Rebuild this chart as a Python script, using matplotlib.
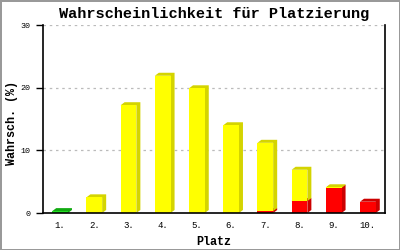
import matplotlib
matplotlib.use("Agg")
import matplotlib.pyplot as plt
from matplotlib.patches import Polygon
from matplotlib.transforms import IdentityTransform

places = ["1.", "2.", "3.", "4.", "5.", "6.", "7.", "8.", "9.", "10."]
red_vals = [0.0, 0.0, 0.0, 0.0, 0.0, 0.0, 0.3, 1.9, 4.0, 1.8]
yellow_vals = [0.0, 2.5, 17.2, 21.9, 19.9, 14.0, 10.9, 5.0, 0.1, 0.0]
green_vals = [0.3, 0.0, 0.0, 0.0, 0.0, 0.0, 0.0, 0.0, 0.0, 0.0]
yticks = [0, 10, 20, 30]

series = [
    (red_vals, "#ff0000", "#cc0000"),
    (yellow_vals, "#ffff00", "#d4d400"),
    (green_vals, "#22dd22", "#11aa11"),
]

mono = ["Liberation Mono", "DejaVu Sans Mono"]
fig = plt.figure(figsize=(4, 2.5), dpi=100)
fig.patch.set_facecolor("white")
fig.patch.set_edgecolor("#999999")
fig.patch.set_linewidth(2)
ax = fig.add_axes([0.1075, 0.148, 0.855, 0.752])
ax.set_xlim(0.5, len(places) + 0.5)
ax.set_ylim(0, 30)

ax.spines["top"].set_visible(False)
for s in ["left", "bottom", "right"]:
    ax.spines[s].set_color("black")
    ax.spines[s].set_linewidth(1.2)
    ax.spines[s].set_zorder(50)
ax.set_yticks(yticks)
ax.set_yticklabels([str(v) for v in yticks], fontfamily=mono, fontsize=6)
ax.set_xticks(range(1, len(places) + 1))
ax.set_xticklabels(places, fontfamily=mono, fontsize=6.5)
ax.tick_params(axis="y", length=5, width=1, pad=4)
ax.tick_params(axis="x", length=0, pad=6)
for v in yticks[1:]:
    ax.axhline(v, color="#bbbbbb", linestyle=(0, (2, 3)), linewidth=0.9, zorder=0)

ax.set_title("Wahrscheinlichkeit für Platzierung", fontfamily=mono,
             fontweight="bold", fontsize=11, pad=5)
ax.set_ylabel("Wahrsch. (%)", fontfamily=mono, fontweight="bold", fontsize=8.5)
ax.yaxis.set_label_coords(-0.074, 0.48)
ax.set_xlabel("Platz", fontfamily=mono, fontweight="bold", fontsize=8.5, labelpad=4)

fig.canvas.draw()
width = 0.46
dx, dy = 4, 3
z = 2
for i in range(len(places)):
    bottom = 0.0
    for vals, front, side in series:
        v = vals[i]
        if v <= 0:
            continue
        x0, y0 = ax.transData.transform((i + 1 - width / 2, bottom))
        x1, y1 = ax.transData.transform((i + 1 + width / 2, bottom + v))
        poly = Polygon([(x0, y1), (x0 + dx, y1 + dy), (x1 + dx, y1 + dy),
                        (x1 + dx, y0 + dy), (x1, y0), (x1, y1)],
                       closed=True, facecolor=side, edgecolor="none",
                       transform=IdentityTransform(), zorder=z, clip_on=False)
        ax.add_patch(poly)
        ax.bar(i + 1, v, width=width, bottom=bottom, color=front,
               edgecolor="none", zorder=z + 1)
        z += 2
        bottom += v

fig.savefig("out.png", dpi=100)
